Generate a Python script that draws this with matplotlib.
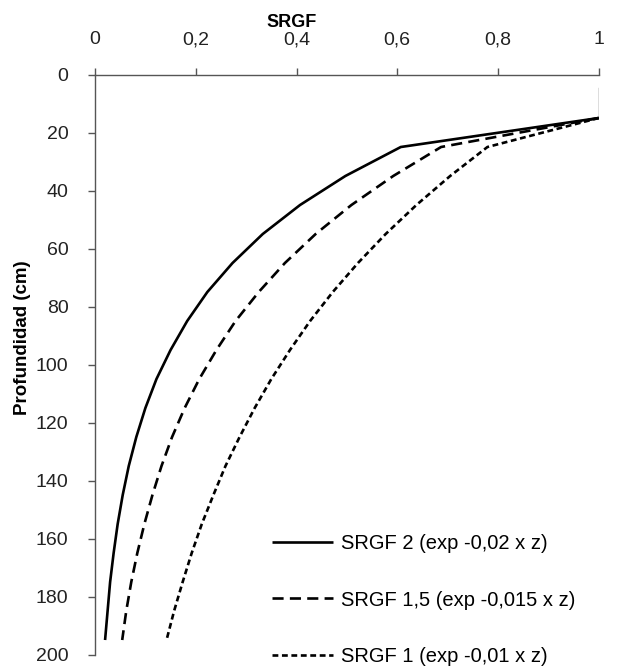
import matplotlib
matplotlib.use("Agg")
import matplotlib.pyplot as plt

# ---- data ----
depth = [15, 25, 35, 45, 55, 65, 75, 85, 95, 105, 115, 125, 135, 145, 155, 165, 175, 185, 195]
srgf_2 = [1.0, 0.607, 0.497, 0.407, 0.333, 0.273, 0.223, 0.183, 0.150, 0.122, 0.100,
          0.082, 0.067, 0.055, 0.045, 0.037, 0.030, 0.025, 0.020]
srgf_15 = [1.0, 0.687, 0.592, 0.509, 0.438, 0.377, 0.325, 0.279, 0.241, 0.207, 0.178,
           0.153, 0.132, 0.114, 0.098, 0.084, 0.072, 0.062, 0.054]
srgf_1 = [1.0, 0.779, 0.705, 0.638, 0.577, 0.522, 0.472, 0.427, 0.387, 0.350, 0.317,
          0.287, 0.259, 0.235, 0.212, 0.192, 0.174, 0.157, 0.142]
surface_depth = [4.5, 15]
surface_x = [1.0, 1.0]

labels = ["SRGF 2 (exp -0,02 x z)", "SRGF 1,5 (exp -0,015 x z)", "SRGF 1 (exp -0,01 x z)"]
x_ticks = [0, 0.2, 0.4, 0.6, 0.8, 1.0]
x_ticklabels = ["0", "0,2", "0,4", "0,6", "0,8", "1"]
y_ticks = [0, 20, 40, 60, 80, 100, 120, 140, 160, 180, 200]

plt.rcParams['font.family'] = ['Liberation Sans', 'DejaVu Sans']
plt.rcParams['lines.scale_dashes'] = False

fig = plt.figure(figsize=(6.25, 6.70), dpi=100)
ax = fig.add_axes([0.152, 0.0231, 0.806, 0.8657])

axis_col = '#555555'
lw = 1.9
ax.plot(surface_x, surface_depth, color=axis_col, lw=1.0)
ax.plot(srgf_2, depth, color='black', lw=lw, solid_capstyle='butt', label=labels[0])
ax.plot(srgf_15, depth, color='black', lw=lw, linestyle=(0, (8, 4.5)), label=labels[1])
ax.plot(srgf_1, depth, color='black', lw=lw, linestyle=(0, (4.2, 2.6)), label=labels[2])

ax.set_xlim(0, 1)
ax.set_ylim(200, 0)
ax.xaxis.tick_top()
ax.xaxis.set_label_position('top')
ax.set_xticks(x_ticks)
ax.set_xticklabels(x_ticklabels)
ax.set_yticks(y_ticks)

for s in ['bottom', 'right']:
    ax.spines[s].set_visible(False)
for s in ['top', 'left']:
    ax.spines[s].set_color(axis_col)
    ax.spines[s].set_linewidth(1.0)

ax.tick_params(axis='x', direction='out', length=5, width=1.0, color=axis_col,
               pad=14, labelsize=14, labelcolor='#222222')
ax.tick_params(axis='y', direction='out', length=5, width=1.0, color=axis_col,
               pad=14, labelsize=14, labelcolor='#222222')

ax.set_xlabel('SRGF', fontsize=13, fontweight='bold')
ax.xaxis.set_label_coords(0.39, 1.082)
ax.set_ylabel('Profundidad (cm)', fontsize=13.5, fontweight='bold')
ax.yaxis.set_label_coords(-0.127, 0.546)

leg = ax.legend(loc='center left', bbox_to_anchor=(0.336, 0.094), frameon=False,
                fontsize=14.5, handlelength=3.0, handletextpad=0.4, labelspacing=1.85,
                borderaxespad=0)

fig.savefig('out.png', dpi=100)
